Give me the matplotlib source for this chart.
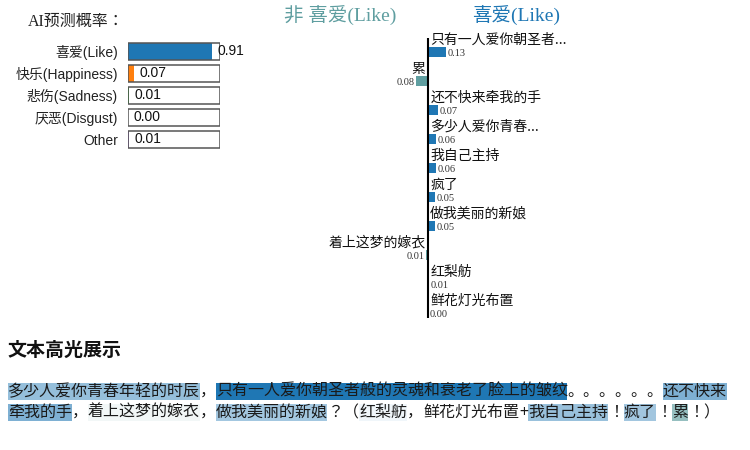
import matplotlib
matplotlib.use('Agg')
import matplotlib.pyplot as plt
import numpy as np
from matplotlib.font_manager import FontProperties, findfont, get_font
from matplotlib.patches import Rectangle
from matplotlib.colors import to_rgba

# ---------------- data ----------------
classes = ['喜爱(Like)', '快乐(Happiness)', '悲伤(Sadness)', '厌恶(Disgust)', 'Other']
probs = [0.91, 0.07, 0.01, 0.00, 0.01]
class_colors = ['#1f77b4', '#ff7f0e', '#2ca02c', '#d62728', '#9467bd']

features = ['只有一人爱你朝圣者...', '累', '还不快来牵我的手', '多少人爱你青春...',
            '我自己主持', '疯了', '做我美丽的新娘', '着上这梦的嫁衣', '红梨舫', '鲜花灯光布置']
weights = [0.128, -0.084, 0.074, 0.060, 0.058, 0.053, 0.052, -0.010, 0.008, 0.002]

seg_texts = ['多少人爱你青春年轻的时辰', '，', '只有一人爱你朝圣者般的灵魂和衰老了脸上的皱纹',
             '。。。。。。', '还不快来牵我的手', '，', '着上这梦的嫁衣', '，', '做我美丽的新娘',
             '？（', '红梨舫', '，', '鲜花灯光布置', '+', '我自己主持', '！', '疯了', '！', '累', '！）']
seg_weights = [0.060, None, 0.128, None, 0.074, None, -0.010, None, 0.052,
               None, 0.008, None, 0.002, None, 0.058, None, 0.053, None, -0.084, None]

pos_color = '#1f77b4'
neg_color = '#5f9ea0'

W, H = 750, 450
fig = plt.figure(figsize=(7.5, 4.5), dpi=100)


def px_axes(x0, y0, x1, y1):
    return fig.add_axes([x0 / W, 1 - y1 / H, (x1 - x0) / W, (y1 - y0) / H])


CJK = 'Noto Sans CJK JP'
sans_list = ['Liberation Sans', CJK]
serif_list = ['Liberation Serif', CJK]

# ---------------- left: prediction probabilities ----------------
fig.text(28 / W, 1 - 22 / H, 'AI预测概率：', family=serif_list, fontsize=11.5,
         ha='left', va='center', color='#222222')

axp = px_axes(128, 40.3, 220, 150.3)
yp = np.arange(len(classes))
axp.barh(yp, probs, height=0.76, color=class_colors, zorder=2)
axp.barh(yp, [1] * len(classes), height=0.8, facecolor='none', edgecolor='#555555',
         linewidth=1.1, zorder=3)
axp.set_xlim(0, 1)
axp.set_ylim(len(classes) - 0.5, -0.5)
axp.set_yticks(yp)
axp.set_yticklabels(classes, family=sans_list, fontsize=10, color='#222222')
axp.tick_params(axis='y', length=0, pad=7.2)
axp.set_xticks([])
for s in axp.spines.values():
    s.set_visible(False)
axp.patch.set_visible(False)
for i, v in enumerate(probs):
    axp.annotate(f'{v:.2f}', xy=(v, i), xytext=(5.5, 0), textcoords='offset pixels',
                 ha='left', va='center', family=sans_list, fontsize=10, color='#111111',
                 zorder=4, annotation_clip=False)

# ---------------- middle: feature weights ----------------
fig.text(340.5 / W, 1 - 16 / H, '非 喜爱(Like)', family=serif_list, fontsize=14,
         ha='center', va='center', color=neg_color)
fig.text(516 / W, 1 - 16 / H, '喜爱(Like)', family=serif_list, fontsize=14,
         ha='center', va='center', color=pos_color)

scale = 143.0
zero_x = 427.7
axf = px_axes(zero_x - 150, 38, zero_x + 150, 318)
n = len(features)
yf = np.arange(n)
axf.barh(yf, weights, height=0.345,
         color=[pos_color if w >= 0 else neg_color for w in weights], zorder=2)
axf.axvline(0, color='black', linewidth=1.5, zorder=3)
axf.set_xlim(-150 / scale, 150 / scale)
axf.set_ylim(n - 1 + 5 / 29, -14 / 29)
axf.axis('off')
for i, (name, w) in enumerate(zip(features, weights)):
    sgn = 1 if w >= 0 else -1
    axf.annotate(name, xy=(0, i - 0.43), xytext=(2.5 * sgn, 0), textcoords='offset pixels',
                 ha='left' if sgn > 0 else 'right', va='center', family=[CJK],
                 fontsize=10, color='#111111', annotation_clip=False)
    axf.annotate(f'{abs(w):.2f}', xy=(w, i + 0.05), xytext=(1.5 * sgn, 0),
                 textcoords='offset pixels', ha='left' if sgn > 0 else 'right',
                 va='center', family=serif_list, fontsize=7.5, color='#333333',
                 annotation_clip=False)

# ---------------- bottom: highlighted text ----------------
fig.text(8 / W, 1 - 350 / H, '文本高光展示', family=[CJK], fontsize=13.7,
         fontweight='bold', ha='left', va='center', color='#111111')

axt = fig.add_axes([0, 0, 1, 1], zorder=-1)
axt.set_xlim(0, W)
axt.set_ylim(H, 0)
axt.axis('off')

body_size = 11.5
body_fp = FontProperties(family=CJK, size=body_size)
ft = get_font(findfont(body_fp))
ft.set_size(body_size, 100)


def adv(c):
    g = ft.load_char(ord(c))
    return g.linearHoriAdvance / 65536


max_w = max(abs(w) for w in weights)
x0_text, x_max = 8, 731
line_centers = [391.5, 412.5]
box_h = 17

# layout characters
runs = []  # (line, x_start, x_end, text, weight)
line = 0
x = x0_text
for txt, w in zip(seg_texts, seg_weights):
    cur = ''
    cur_x = x
    for c in txt:
        a = adv(c)
        if x + a > x_max + 0.5:
            if cur:
                runs.append((line, cur_x, x, cur, w))
            line += 1
            x = x0_text
            cur = ''
            cur_x = x
        cur += c
        x += a
    if cur:
        runs.append((line, cur_x, x, cur, w))

for ln, xs, xe, txt, w in runs:
    yc = line_centers[ln]
    if w is not None and abs(w) > 0.003:
        col = pos_color if w > 0 else neg_color
        axt.add_patch(Rectangle((xs, yc - box_h / 2), xe - xs, box_h,
                                facecolor=to_rgba(col, abs(w) / max_w),
                                edgecolor='none', zorder=1))
    axt.text(xs, yc, txt, fontproperties=body_fp, ha='left', va='center',
             color='#1a1a1a', zorder=2)

fig.savefig('out.png', dpi=100)
